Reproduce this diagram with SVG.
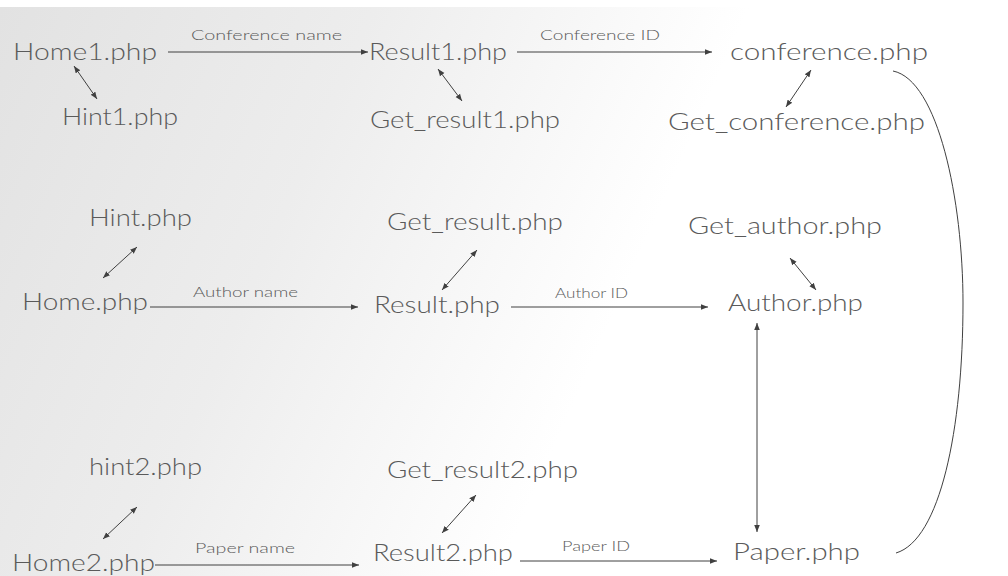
<svg xmlns="http://www.w3.org/2000/svg" width="1008" height="576" viewBox="0 0 1008 576">
<defs>
<linearGradient id="bg" x1="0" y1="0" x2="1" y2="0.25">
<stop offset="0" stop-color="#e2e2e2"/>
<stop offset="0.35" stop-color="#ededed"/>
<stop offset="0.7" stop-color="#ffffff"/>
<stop offset="1" stop-color="#ffffff"/>
</linearGradient>
<marker id="ah" viewBox="0 0 10 10" refX="10" refY="5" markerWidth="7" markerHeight="7" markerUnits="userSpaceOnUse" orient="auto-start-reverse">
<path d="M0,1 L10,5 L0,9 z" fill="#404040"/>
</marker>
</defs>
<style>
.n{font-family:"Lato","Liberation Sans",sans-serif;font-weight:300;font-size:23px;fill:#5a5a5a;}
.l{font-family:"Lato","Liberation Sans",sans-serif;font-weight:300;font-size:14px;fill:#5a5a5a;}
.c{fill:none;stroke:#404040;stroke-width:1;}
.a{marker-end:url(#ah);}
.d{marker-start:url(#ah);marker-end:url(#ah);}
</style>
<rect x="0" y="0" width="1008" height="576" fill="#ffffff"/>
<rect x="0" y="7" width="1008" height="569" fill="url(#bg)"/>

<g id="connectors">
<path class="c a" d="M168,52 H368"/>
<path class="c a" d="M517,52 H712"/>
<path class="c d" d="M74,66 L97,99"/>
<path class="c d" d="M438,69 L462,101"/>
<path class="c d" d="M811,70 L786,107"/>
<path class="c" d="M893,71 C938,80 963,200 963,303 C963,430 940,540 896,553"/>
<path class="c d" d="M137,247 L103,278"/>
<path class="c a" d="M150,307 H358"/>
<path class="c d" d="M477,250 L442,290"/>
<path class="c a" d="M511,307 H708"/>
<path class="c d" d="M790,258 L816,290"/>
<path class="c d" d="M757,323 V532"/>
<path class="c d" d="M137,507 L103,539"/>
<path class="c a" d="M155,565 H359"/>
<path class="c d" d="M476,495 L442,533"/>
<path class="c a" d="M520,561 H717"/>
<text class="l" x="191" y="40" textLength="151" lengthAdjust="spacingAndGlyphs">Conference name</text>
<text class="l" x="540" y="40" textLength="120" lengthAdjust="spacingAndGlyphs">Conference ID</text>
<text class="l" x="193" y="297" textLength="105" lengthAdjust="spacingAndGlyphs">Author name</text>
<text class="l" x="555" y="298" textLength="73" lengthAdjust="spacingAndGlyphs">Author ID</text>
<text class="l" x="195" y="553" textLength="100" lengthAdjust="spacingAndGlyphs">Paper name</text>
<text class="l" x="562" y="551" textLength="68" lengthAdjust="spacingAndGlyphs">Paper ID</text>
</g>

<g id="home1"><text class="n" x="13" y="60" textLength="144" lengthAdjust="spacingAndGlyphs">Home1.php</text></g>
<g id="hint1"><text class="n" x="62" y="125" textLength="116" lengthAdjust="spacingAndGlyphs">Hint1.php</text></g>
<g id="result1"><text class="n" x="369" y="60" textLength="138" lengthAdjust="spacingAndGlyphs">Result1.php</text></g>
<g id="get_result1"><text class="n" x="370" y="128" textLength="190" lengthAdjust="spacingAndGlyphs">Get_result1.php</text></g>
<g id="conference"><text class="n" x="730" y="60" textLength="198" lengthAdjust="spacingAndGlyphs">conference.php</text></g>
<g id="get_conference"><text class="n" x="668" y="130" textLength="257" lengthAdjust="spacingAndGlyphs">Get_conference.php</text></g>

<g id="hint"><text class="n" x="89" y="226" textLength="103" lengthAdjust="spacingAndGlyphs">Hint.php</text></g>
<g id="home"><text class="n" x="22" y="310" textLength="126" lengthAdjust="spacingAndGlyphs">Home.php</text></g>
<g id="get_result"><text class="n" x="387" y="230" textLength="176" lengthAdjust="spacingAndGlyphs">Get_result.php</text></g>
<g id="result"><text class="n" x="374" y="313" textLength="126" lengthAdjust="spacingAndGlyphs">Result.php</text></g>
<g id="get_author"><text class="n" x="688" y="234" textLength="194" lengthAdjust="spacingAndGlyphs">Get_author.php</text></g>
<g id="author"><text class="n" x="728" y="311" textLength="135" lengthAdjust="spacingAndGlyphs">Author.php</text></g>

<g id="hint2"><text class="n" x="89" y="475" textLength="113" lengthAdjust="spacingAndGlyphs">hint2.php</text></g>
<g id="home2"><text class="n" x="12" y="571" textLength="143" lengthAdjust="spacingAndGlyphs">Home2.php</text></g>
<g id="get_result2"><text class="n" x="387" y="478" textLength="191" lengthAdjust="spacingAndGlyphs">Get_result2.php</text></g>
<g id="result2"><text class="n" x="373" y="561" textLength="140" lengthAdjust="spacingAndGlyphs">Result2.php</text></g>
<g id="paper"><text class="n" x="733" y="560" textLength="127" lengthAdjust="spacingAndGlyphs">Paper.php</text></g>
</svg>
